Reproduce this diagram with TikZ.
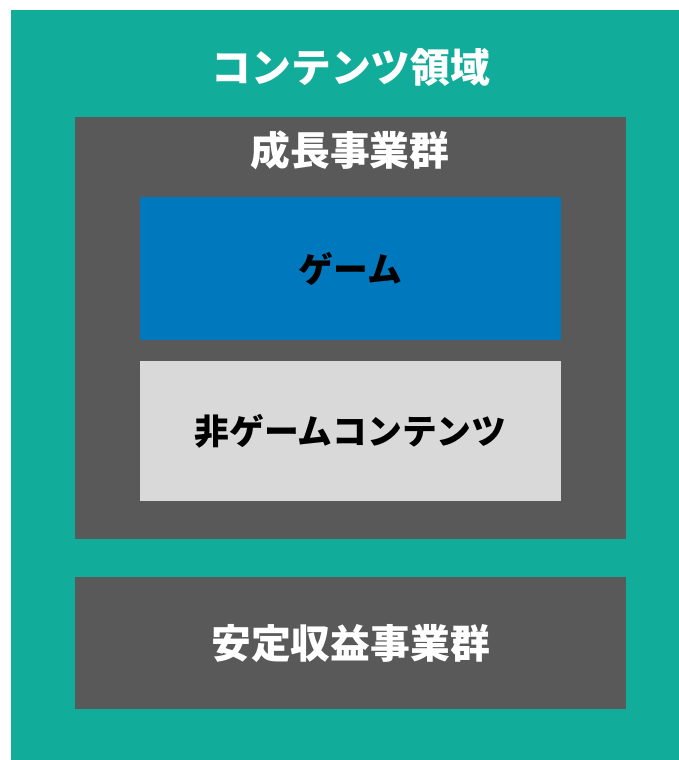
\documentclass[tikz,border=0pt]{standalone}
\usepackage{fontspec}
\newfontfamily\jp{Noto Sans CJK JP}
\definecolor{teal1}{HTML}{12AD9A}
\definecolor{gray1}{HTML}{595959}
\definecolor{blue1}{HTML}{0078BE}
\definecolor{light1}{HTML}{D9D9D9}
\begin{document}
\begin{tikzpicture}[x=1pt,y=-1pt,
  box/.style={draw=none,inner sep=0pt,outer sep=0pt,rectangle},
  wt/.style={text=white,font=\jp\bfseries\fontsize{39.8}{42}\selectfont,inner sep=0pt},
  bt/.style={text=black,font=\jp\bfseries\fontsize{34.8}{37}\selectfont,inner sep=0pt}]
\useasboundingbox (0,0) rectangle (679,760);
\node[box,fill=teal1,minimum width=668pt,minimum height=750pt] (outer) at (345,385) {};
\node[box,fill=gray1,minimum width=551pt,minimum height=422pt] (growth) at (350.5,328) {};
\node[box,fill=blue1,minimum width=421pt,minimum height=143pt] (game) at (350.5,268.5) {};
\node[box,fill=light1,minimum width=421pt,minimum height=140pt] (nongame) at (350.5,431) {};
\node[box,fill=gray1,minimum width=551pt,minimum height=132pt] (stable) at (350.5,643) {};
\node[wt] (t1) at (351,67) {コンテンツ領域};
\node[wt] (t2) at (350,150) {成長事業群};
\node[bt] (t3) at (game.center) {ゲーム};
\node[bt] (t4) at (nongame.center) {非ゲームコンテンツ};
\node[wt] (t5) at (stable.center) {安定収益事業群};
\end{tikzpicture}
\end{document}
